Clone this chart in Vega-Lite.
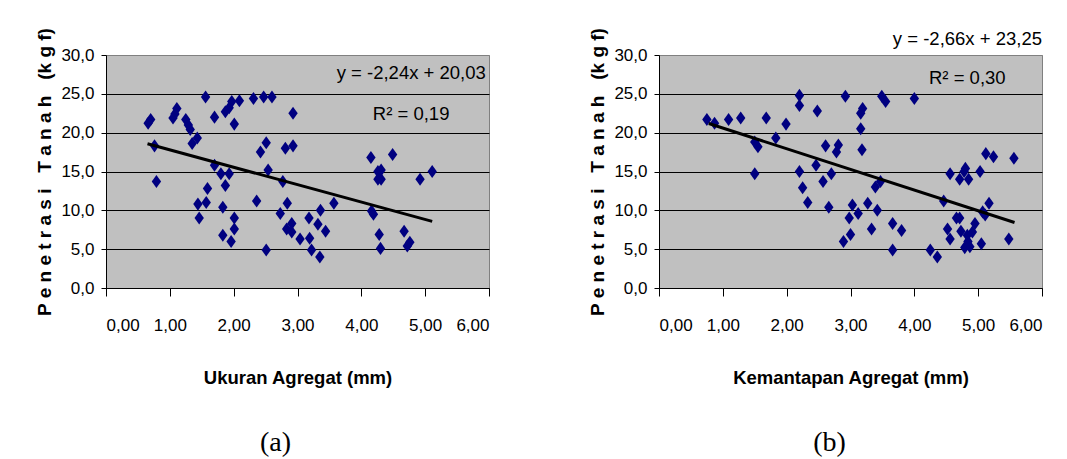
{
  "$schema": "https://vega.github.io/schema/vega-lite/v6.json",
  "background": "white",
  "padding": {"left": 35, "top": 26, "right": 5, "bottom": 5},
  "bounds": "flush",
  "spacing": 170,
  "datasets": {
    "a": [
      {"x":0.66,"y":21.2},{"x":0.70,"y":21.7},{"x":0.76,"y":18.3},{"x":0.79,"y":13.7},{"x":1.05,"y":21.9},{"x":1.08,"y":22.4},{"x":1.11,"y":23.1},{"x":1.25,"y":21.7},{"x":1.29,"y":21.0},{"x":1.32,"y":20.4},
      {"x":1.35,"y":18.6},{"x":1.43,"y":19.3},{"x":1.44,"y":10.8},{"x":1.46,"y":9.0},{"x":1.56,"y":24.6},{"x":1.57,"y":11.0},{"x":1.59,"y":12.8},{"x":1.70,"y":22.0},{"x":1.70,"y":15.8},{"x":1.80,"y":14.7},
      {"x":1.83,"y":10.4},{"x":1.83,"y":6.8},{"x":1.87,"y":13.2},{"x":1.87,"y":22.7},{"x":1.93,"y":23.2},{"x":1.97,"y":24.0},{"x":1.93,"y":14.7},{"x":1.96,"y":6.0},{"x":2.01,"y":21.1},{"x":2.01,"y":9.0},
      {"x":2.01,"y":7.6},{"x":2.09,"y":24.1},{"x":2.31,"y":24.4},{"x":2.36,"y":11.2},{"x":2.42,"y":17.5},{"x":2.47,"y":24.6},{"x":2.51,"y":18.7},{"x":2.51,"y":4.9},{"x":2.54,"y":15.2},{"x":2.60,"y":24.6},
      {"x":2.73,"y":9.6},{"x":2.77,"y":13.7},{"x":2.81,"y":18.0},{"x":2.84,"y":10.9},{"x":2.83,"y":7.6},{"x":2.91,"y":8.3},{"x":2.91,"y":7.2},{"x":2.93,"y":18.3},{"x":2.93,"y":22.5},{"x":3.04,"y":6.3},
      {"x":3.18,"y":9.0},{"x":3.19,"y":6.4},{"x":3.22,"y":4.9},{"x":3.32,"y":8.2},{"x":3.35,"y":4.0},{"x":3.36,"y":10.0},{"x":3.44,"y":7.3},{"x":3.57,"y":10.9},{"x":4.15,"y":16.8},{"x":4.16,"y":9.9},
      {"x":4.19,"y":9.5},{"x":4.26,"y":15.0},{"x":4.26,"y":14.0},{"x":4.31,"y":15.2},{"x":4.31,"y":14.0},{"x":4.28,"y":6.9},{"x":4.30,"y":5.1},{"x":4.49,"y":17.2},{"x":4.67,"y":7.3},{"x":4.72,"y":5.4},
      {"x":4.76,"y":5.9},{"x":4.92,"y":14.0},{"x":5.11,"y":15.0}
    ],
    "b": [
      {"x":0.75,"y":21.7},{"x":0.87,"y":21.2},{"x":1.09,"y":21.7},{"x":1.28,"y":21.9},{"x":1.50,"y":18.8},{"x":1.55,"y":18.2},{"x":1.50,"y":14.7},{"x":1.68,"y":21.9},{"x":1.83,"y":19.3},{"x":1.99,"y":21.1},
      {"x":2.20,"y":24.8},{"x":2.20,"y":23.5},{"x":2.20,"y":15.0},{"x":2.25,"y":12.9},{"x":2.33,"y":11.0},{"x":2.48,"y":22.8},{"x":2.46,"y":15.8},{"x":2.57,"y":13.7},{"x":2.61,"y":18.3},{"x":2.66,"y":10.4},
      {"x":2.70,"y":14.7},{"x":2.78,"y":17.5},{"x":2.81,"y":18.4},{"x":2.89,"y":6.0},{"x":2.92,"y":24.7},{"x":2.98,"y":9.0},{"x":3.00,"y":6.9},{"x":3.03,"y":10.7},{"x":3.12,"y":9.6},{"x":3.16,"y":20.5},
      {"x":3.16,"y":22.5},{"x":3.19,"y":23.1},{"x":3.18,"y":17.8},{"x":3.27,"y":10.9},{"x":3.33,"y":7.6},{"x":3.39,"y":13.0},{"x":3.42,"y":10.0},{"x":3.47,"y":13.7},{"x":3.49,"y":24.7},{"x":3.55,"y":24.0},
      {"x":3.66,"y":8.3},{"x":3.66,"y":4.9},{"x":3.80,"y":7.4},{"x":4.00,"y":24.4},{"x":4.25,"y":4.9},{"x":4.36,"y":4.0},{"x":4.46,"y":11.2},{"x":4.52,"y":7.6},{"x":4.56,"y":6.3},{"x":4.56,"y":14.7},
      {"x":4.66,"y":9.0},{"x":4.71,"y":9.0},{"x":4.71,"y":14.0},{"x":4.78,"y":15.0},{"x":4.80,"y":15.4},{"x":4.73,"y":7.3},{"x":4.79,"y":5.2},{"x":4.83,"y":6.8},{"x":4.84,"y":6.0},{"x":4.87,"y":5.3},
      {"x":4.85,"y":14.0},{"x":4.91,"y":7.2},{"x":4.95,"y":8.3},{"x":5.03,"y":15.0},{"x":5.05,"y":5.7},{"x":5.07,"y":9.8},{"x":5.11,"y":9.4},{"x":5.12,"y":17.3},{"x":5.17,"y":10.9},{"x":5.24,"y":16.9},
      {"x":5.48,"y":6.3},{"x":5.56,"y":16.7}
    ],
    "trendA": [{"x":0.65,"y":18.57},{"x":5.11,"y":8.58}],
    "trendB": [{"x":0.78,"y":21.18},{"x":5.57,"y":8.43}],
    "eqA": [{"eq":"y = -2,24x + 20,03","r2":"R² = 0,19"}],
    "eqB": [{"eq":"y = -2,66x + 23,25","r2":"R² = 0,30"}]
  },
  "hconcat": [
    {
      "width": 383, "height": 233,
      "title": {"text": "(a)", "orient": "bottom", "frame": "group", "anchor": "middle", "dx": -22, "offset": 42, "font": "Liberation Serif", "fontSize": 28, "fontWeight": "normal", "color": "black"},
      "layer": [
        {
          "data": {"name": "a"},
          "mark": {"type": "point", "shape": "M0,-1L0.72,0L0,1L-0.72,0Z", "size": 170, "filled": true, "color": "#000080", "opacity": 1},
          "encoding": {
            "x": {"field": "x", "type": "quantitative", "scale": {"domain": [0, 6], "nice": false, "zero": false},
                  "axis": {"title": "Ukuran Agregat (mm)", "values": [0,1,2,3,4,5,6], "format": ".2f", "grid": false, "tickSize": 8, "labelPadding": 21, "titlePadding": 35, "labelOverlap": false}},
            "y": {"field": "y", "type": "quantitative", "scale": {"domain": [0, 30], "nice": false},
                  "axis": {"title": "P e n e t r a s i\u00a0\u00a0\u00a0T a n a h\u00a0\u00a0\u00a0(k g f)", "values": [0,5,10,15,20,25,30], "tickCount": 7, "labelOverlap": false, "format": ".1f", "tickSize": 5, "labelPadding": 7, "titlePadding": 6,
                           "grid": true, "gridColor": {"condition": {"test": "datum.value === 30", "value": "#808080"}, "value": "#000000"}}}
          }
        },
        {
          "data": {"name": "trendA"},
          "mark": {"type": "line", "color": "black", "strokeWidth": 3},
          "encoding": {"x": {"field": "x", "type": "quantitative"}, "y": {"field": "y", "type": "quantitative"}}
        },
        {
          "data": {"name": "eqA"},
          "mark": {"type": "text", "align": "right", "baseline": "middle", "fontSize": 18.5, "font": "Liberation Sans", "color": "black"},
          "encoding": {"x": {"datum": 5.95}, "y": {"datum": 27.7}, "text": {"field": "eq"}}
        },
        {
          "data": {"name": "eqA"},
          "mark": {"type": "text", "align": "center", "baseline": "middle", "fontSize": 18.5, "font": "Liberation Sans", "color": "black"},
          "encoding": {"x": {"datum": 4.78}, "y": {"datum": 22.4}, "text": {"field": "r2"}}
        }
      ]
    },
    {
      "width": 383, "height": 233,
      "title": {"text": "(b)", "orient": "bottom", "frame": "group", "anchor": "middle", "dx": -21, "offset": 42, "font": "Liberation Serif", "fontSize": 28, "fontWeight": "normal", "color": "black"},
      "layer": [
        {
          "data": {"name": "b"},
          "mark": {"type": "point", "shape": "M0,-1L0.72,0L0,1L-0.72,0Z", "size": 170, "filled": true, "color": "#000080", "opacity": 1},
          "encoding": {
            "x": {"field": "x", "type": "quantitative", "scale": {"domain": [0, 6], "nice": false, "zero": false},
                  "axis": {"title": "Kemantapan Agregat (mm)", "values": [0,1,2,3,4,5,6], "format": ".2f", "grid": false, "tickSize": 8, "labelPadding": 21, "titlePadding": 35, "labelOverlap": false}},
            "y": {"field": "y", "type": "quantitative", "scale": {"domain": [0, 30], "nice": false},
                  "axis": {"title": "P e n e t r a s i\u00a0\u00a0\u00a0T a n a h\u00a0\u00a0\u00a0(k g f)", "values": [0,5,10,15,20,25,30], "tickCount": 7, "labelOverlap": false, "format": ".1f", "tickSize": 5, "labelPadding": 7, "titlePadding": 6,
                           "grid": true, "gridColor": {"condition": {"test": "datum.value === 30", "value": "#808080"}, "value": "#000000"}}}
          }
        },
        {
          "data": {"name": "trendB"},
          "mark": {"type": "line", "color": "black", "strokeWidth": 3},
          "encoding": {"x": {"field": "x", "type": "quantitative"}, "y": {"field": "y", "type": "quantitative"}}
        },
        {
          "data": {"name": "eqB"},
          "mark": {"type": "text", "align": "right", "baseline": "middle", "fontSize": 18.5, "font": "Liberation Sans", "color": "black"},
          "encoding": {"x": {"datum": 6.0}, "y": {"datum": 32.05}, "text": {"field": "eq"}}
        },
        {
          "data": {"name": "eqB"},
          "mark": {"type": "text", "align": "center", "baseline": "middle", "fontSize": 18.5, "font": "Liberation Sans", "color": "black"},
          "encoding": {"x": {"datum": 4.83}, "y": {"datum": 27.0}, "text": {"field": "r2"}}
        }
      ]
    }
  ],
  "config": {
    "locale": {"number": {"decimal": ",", "thousands": ".", "grouping": [3], "currency": ["", ""]}},
    "view": {"fill": "#C0C0C0", "stroke": "#808080", "strokeWidth": 1},
    "axis": {
      "domainColor": "#000000", "domainWidth": 1, "tickColor": "#000000", "tickWidth": 1,
      "labelColor": "#000000", "labelFont": "Liberation Sans", "labelFontSize": 17,
      "titleColor": "#000000", "gridWidth": 1
    },
    "axisX": {"titleFont": "Liberation Sans", "titleFontSize": 18.5, "titleFontWeight": "bold"},
    "axisY": {"titleFont": "Liberation Sans", "titleFontSize": 19, "titleFontWeight": "bold"}
  }
}
